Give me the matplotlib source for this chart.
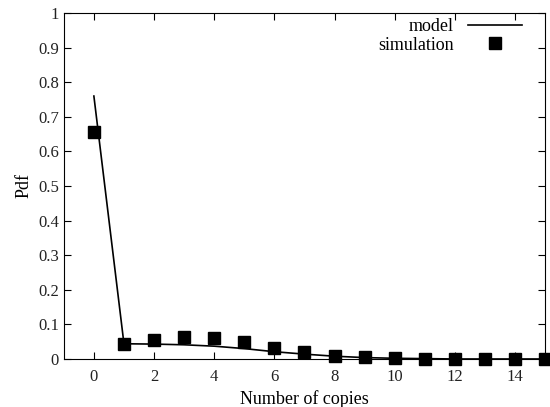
import matplotlib
matplotlib.use("Agg")
import matplotlib.pyplot as plt

# --- DATA ---
copies = list(range(0, 16))
model = [0.76, 0.044, 0.043, 0.041, 0.037, 0.030, 0.021, 0.014, 0.008,
         0.004, 0.002, 0.001, 0.0, 0.0, 0.0, 0.0]
simulation = [0.655, 0.044, 0.055, 0.063, 0.060, 0.049, 0.033, 0.021, 0.010,
              0.005, 0.002, 0.001, 0.0, 0.0, 0.0, 0.0]
xticks = [0, 2, 4, 6, 8, 10, 12, 14]
yticks = [0, 0.1, 0.2, 0.3, 0.4, 0.5, 0.6, 0.7, 0.8, 0.9, 1]

plt.rcParams['font.family'] = ['Liberation Serif', 'DejaVu Serif']

fig = plt.figure(figsize=(5.5, 4.07), dpi=100)
ax = fig.add_axes([0.116, 0.118, 0.875, 0.850])

ax.plot(copies, model, color='black', linewidth=1.2, label='model')
ax.plot(copies, simulation, linestyle='none', marker='s', markersize=8.5,
        color='black', label='simulation', clip_on=False, zorder=3)

ax.set_xlim(-1, 15)
ax.set_ylim(0, 1)
ax.set_xticks(xticks)
ax.set_yticks(yticks)
ax.set_yticklabels(['0', '0.1', '0.2', '0.3', '0.4', '0.5', '0.6', '0.7', '0.8', '0.9', '1'])
ax.tick_params(direction='in', top=True, right=True, labelsize=12, length=5, width=0.8,
               labelcolor='#222222')
ax.tick_params(axis='x', pad=7)
ax.set_xlabel('Number of copies', fontsize=13, labelpad=4)
ax.set_ylabel('Pdf', fontsize=13)

for s in ax.spines.values():
    s.set_linewidth(0.8)

ax.legend(loc='upper right', bbox_to_anchor=(0.975, 1.017), frameon=False,
          markerfirst=False, fontsize=13, handlelength=3.0, borderaxespad=0.2,
          labelspacing=0.1, handletextpad=0.8)

fig.savefig('out.png', dpi=100)
